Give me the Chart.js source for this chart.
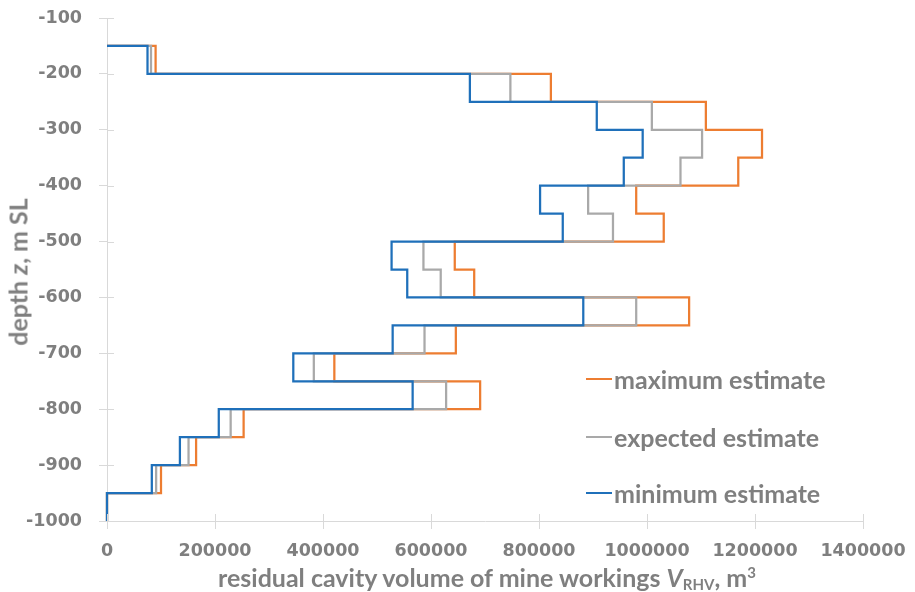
<!DOCTYPE html>
<html>
<head>
<meta charset="utf-8">
<title>Residual cavity volume by depth</title>
<script src="https://cdn.jsdelivr.net/npm/chart.js@4.4.1/dist/chart.umd.min.js"></script>
<style>
  html, body { margin: 0; padding: 0; background: #ffffff; }
  #wrap { position: relative; width: 915px; height: 592px; font-family: Lato, "Open Sans", sans-serif; color: #7f7f7f; }
  #c { position: absolute; left: 0; top: 0; }
  .axis-title { position: absolute; font-size: 25px; font-weight: 700; white-space: nowrap; line-height: 1; }
  #xtitle { left: 487px; top: 577px; transform: translate(-50%, -50%); }
  #ytitle { left: 18px; top: 272px; transform: translate(-50%, -50%) rotate(-90deg); }
  .axis-title sub { font-size: 60%; vertical-align: -0.25em; line-height: 0; }
  .axis-title sup { font-size: 60%; vertical-align: 0.55em; line-height: 0; }
  .legend-item { position: absolute; left: 586px; display: flex; align-items: center; font-size: 25px; font-weight: 700; white-space: nowrap; transform: translateY(-50%); }
  .legend-item span.swatch { display: inline-block; width: 26px; height: 2px; margin-right: 2px; }
</style>
</head>
<body>
<div id="wrap">
  <canvas id="c" width="915" height="592"></canvas>
  <div id="ytitle" class="axis-title">depth <i>z</i>, m SL</div>
  <div id="xtitle" class="axis-title">residual cavity volume of mine workings <i>V</i><sub>RHV</sub>, m<sup>3</sup></div>
  <div id="legend"></div>
</div>
<script>
// Depth levels (m SL) bounding each 50 m interval, top to bottom
const depthLevels = [-150, -200, -250, -300, -350, -400, -450, -500, -550,
                     -600, -650, -700, -750, -800, -850, -900, -950, -1000];

// Residual cavity volume (m³) in each depth interval
const maximumEstimate  = [90000, 822000, 1109000, 1213000, 1169000, 980000, 1031000, 644000, 680000,
                          1078000, 646000, 421000, 691000, 253000, 165000, 100000, 0];
const expectedEstimate = [81500, 747000, 1009000, 1102000, 1062000, 891000, 937000, 586000, 618000,
                          980000, 588000, 383000, 628000, 229000, 151000, 91000, 0];
const minimumEstimate  = [75000, 672000, 907000, 992000, 957000, 802000, 844000, 527000, 556000,
                          882000, 529000, 345000, 566000, 207000, 135000, 83000, 0];

// Axis ticks
const xTicks = [0, 200000, 400000, 600000, 800000, 1000000, 1200000, 1400000];
const yTicks = [-100, -200, -300, -400, -500, -600, -700, -800, -900, -1000];

const seriesLabels = ['maximum estimate', 'expected estimate', 'minimum estimate'];
const seriesColors = ['#ED7D31', '#A9A9A9', '#1F70BA'];

// Turn per-interval volumes into a stepped profile: horizontal runs at each
// level boundary and a vertical run through every interval.
function stepProfile(values) {
  const pts = [{ x: 0, y: depthLevels[0] }];
  values.forEach((v, i) => {
    pts.push({ x: v, y: depthLevels[i] });
    pts.push({ x: v, y: depthLevels[i + 1] });
  });
  return pts;
}

const seriesValues = [maximumEstimate, expectedEstimate, minimumEstimate];

const datasets = seriesValues.map((vals, i) => ({
  label: seriesLabels[i],
  data: stepProfile(vals),
  borderColor: seriesColors[i],
  backgroundColor: seriesColors[i],
  borderWidth: 2.25,
  showLine: true,
  pointRadius: 0,
  pointHoverRadius: 0,
  tension: 0,
  fill: false,
  clip: 4,
  order: 3 - i            // minimum estimate painted on top
}));

// Short tick marks that cross each axis line toward the plot
const innerTicks = {
  id: 'innerTicks',
  afterDraw(chart) {
    const { ctx, chartArea, scales } = chart;
    ctx.save();
    ctx.strokeStyle = '#D9D9D9';
    ctx.lineWidth = 1;
    ctx.beginPath();
    scales.x.ticks.forEach(t => {
      const px = Math.round(scales.x.getPixelForValue(t.value)) + 0.5;
      ctx.moveTo(px, chartArea.bottom);
      ctx.lineTo(px, chartArea.bottom - 7);
    });
    scales.y.ticks.forEach(t => {
      const py = Math.round(scales.y.getPixelForValue(t.value)) + 0.5;
      ctx.moveTo(chartArea.left, py);
      ctx.lineTo(chartArea.left + 7, py);
    });
    ctx.stroke();
    ctx.restore();
  }
};

const tickFont = { family: '"DejaVu Sans", Lato, sans-serif', size: 17.5, weight: 'bold' };

const chart = new Chart(document.getElementById('c'), {
  type: 'scatter',
  data: { datasets },
  options: {
    responsive: false,
    animation: false,
    events: [],
    layout: { padding: { top: 18, right: 52, left: 0, bottom: 0 } },
    plugins: {
      legend: { display: false },
      tooltip: { enabled: false },
      title: { display: false }
    },
    scales: {
      x: {
        type: 'linear',
        min: xTicks[0],
        max: xTicks[xTicks.length - 1],
        afterBuildTicks: s => { s.ticks = xTicks.map(v => ({ value: v })); },
        afterFit: s => { s.height = 71; s.paddingLeft = 0; s.paddingRight = 0; },
        ticks: {
          color: '#7F7F7F',
          font: tickFont,
          padding: 12,
          maxRotation: 0,
          callback: v => String(v)
        },
        grid: { drawOnChartArea: false, drawTicks: true, tickLength: 8, color: '#D9D9D9' },
        border: { display: true, color: '#D9D9D9', width: 1 }
      },
      y: {
        type: 'linear',
        min: yTicks[yTicks.length - 1],
        max: yTicks[0],
        afterBuildTicks: s => { s.ticks = yTicks.map(v => ({ value: v })); },
        afterFit: s => { s.width = 107; s.paddingTop = 0; s.paddingBottom = 0; },
        ticks: {
          color: '#7F7F7F',
          font: tickFont,
          padding: 17,
          callback: v => String(v)
        },
        grid: { drawOnChartArea: false, drawTicks: true, tickLength: 8, color: '#D9D9D9' },
        border: { display: true, color: '#D9D9D9', width: 1 }
      }
    }
  },
  plugins: [innerTicks]
});

// Legend built from the chart's own datasets
const legendRows = [379, 437, 493];
const legendEl = document.getElementById('legend');
chart.data.datasets.forEach((ds, i) => {
  const item = document.createElement('div');
  item.className = 'legend-item';
  item.style.top = legendRows[i] + 'px';
  const sw = document.createElement('span');
  sw.className = 'swatch';
  sw.style.background = ds.borderColor;
  const txt = document.createElement('span');
  txt.textContent = ds.label;
  item.appendChild(sw);
  item.appendChild(txt);
  legendEl.appendChild(item);
});
</script>
</body>
</html>
